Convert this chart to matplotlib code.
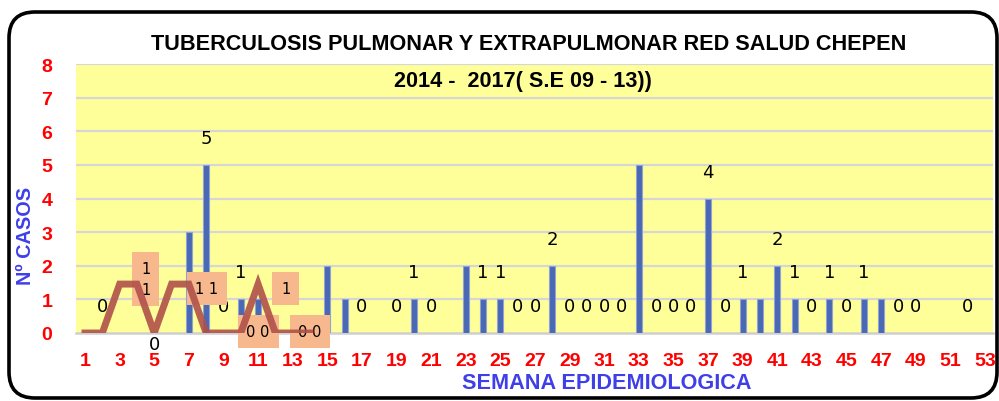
import matplotlib
matplotlib.use("Agg")
import matplotlib.pyplot as plt
from matplotlib.patches import FancyBboxPatch
from matplotlib.transforms import IdentityTransform

# ---------------- data ----------------
bar_weeks = [7, 8, 10, 11, 15, 16, 20, 23, 24, 25, 28, 33, 37, 39, 40, 41, 42, 44, 46, 47]
bar_values = [3, 5, 1, 1, 2, 1, 1, 2, 1, 1, 2, 5, 4, 1, 1, 2, 1, 1, 1, 1]

label_weeks = [2, 8, 9, 10, 17, 19, 20, 21, 24, 25, 26, 27, 28, 29, 30, 31, 32,
               34, 35, 36, 37, 38, 39, 41, 42, 43, 44, 45, 46, 48, 49, 52]
label_values = [0, 5, 0, 1, 0, 0, 1, 0, 1, 1, 0, 0, 2, 0, 0, 0, 0,
                0, 0, 0, 4, 0, 1, 2, 1, 0, 1, 0, 1, 0, 0, 0]

line_weeks = [1, 2, 3, 4, 5, 6, 7, 8, 9, 10, 11, 12, 13, 14]
line_values = [0, 0, 1, 1, 0, 1, 1, 0, 0, 0, 1, 0, 0, 0]

box_texts = ["1\n1", "1 1", "0 0", "1", "0 0"]

x_ticks = list(range(1, 54, 2))
y_ticks = list(range(0, 9))

title1 = "TUBERCULOSIS PULMONAR Y EXTRAPULMONAR RED SALUD CHEPEN"
title2 = "2014 -  2017( S.E 09 - 13))"
xlabel = "SEMANA EPIDEMIOLOGICA"
ylabel = "Nº CASOS"

# ---------------- fonts ----------------
FONT = ["Liberation Sans", "DejaVu Sans"]
plt.rcParams["font.family"] = FONT

# ---------------- figure ----------------
W, H = 999, 402
fig = plt.figure(figsize=(W / 100, H / 100), dpi=100)
fig.patch.set_facecolor("white")

ax = fig.add_axes([76 / W, (H - 334) / H, (993 - 76) / W, (334 - 65) / H])
ax.set_facecolor("#FFFF99")
ax.set_xlim(0.48, 53.46)
ax.set_ylim(0, 8)

for y in y_ticks[1:]:
    ax.axhline(y, color="#D6D6D6", lw=1.6, zorder=1)
for s in ["top", "right", "left"]:
    ax.spines[s].set_visible(False)
ax.spines["bottom"].set_color("#CFCFCF")
ax.spines["bottom"].set_linewidth(1.8)

ax.bar(bar_weeks, bar_values, width=0.34, color="#4A68B4",
       edgecolor="#8FA3D6", linewidth=0.8, zorder=3)

# secondary scale for the line series
ax2 = ax.twinx()
ax2.set_ylim(0, 5.5)
ax2.set_xlim(ax.get_xlim())
ax2.axis("off")
ax2.plot(line_weeks, line_values, color="#B0504A", lw=5, alpha=0.9,
         solid_joinstyle="miter", zorder=4)

# data labels for bars
for wk, v in zip(label_weeks, label_values):
    ax.text(wk, v + 0.8, str(v), ha="center", va="center", fontsize=13,
            color="black", family=["DejaVu Sans"], zorder=6)

# line labels in boxes
box_pos = [(4.5, 1.6), (8.05, 1.33), (11.0, 0.05), (12.6, 1.33), (14.0, 0.05)]
for t, (bx, by) in zip(box_texts, box_pos):
    ax.text(bx, by, t, ha="center", va="center", fontsize=10.5, color="black",
            family=["DejaVu Sans"], linespacing=1.5, zorder=8,
            bbox=dict(boxstyle="square,pad=0.6", facecolor="#F6B88C",
                      edgecolor="none"))
ax.text(5, -0.34, "0", ha="center", va="center", fontsize=13, color="black",
        family=["DejaVu Sans"], clip_on=False, zorder=8)

ax.set_xticks(x_ticks)
ax.set_xticklabels([str(t) for t in x_ticks], color="#FF0000",
                   fontweight="bold", fontsize=14)
ax.set_yticks(y_ticks)
ax.set_yticklabels([str(t) for t in y_ticks], color="#FF0000",
                   fontweight="bold", fontsize=14)
ax.tick_params(axis="both", length=0)
ax.tick_params(axis="x", pad=14)
ax.tick_params(axis="y", pad=17)

fig.text(529 / W, 1 - 45 / H, title1, ha="center", va="center",
         fontsize=15.6, fontweight="bold", color="black")
fig.text(523 / W, 1 - 81 / H, title2, ha="center", va="center",
         fontsize=15.6, fontweight="bold", color="black")
fig.text(607 / W, 1 - 384 / H, xlabel, ha="center", va="center",
         fontsize=15.6, fontweight="bold", color="#3F3FEA")
fig.text(26 / W, 1 - 236 / H, ylabel, ha="center", va="center",
         rotation=90, fontsize=14.3, fontweight="bold", color="#3F3FEA")

# rounded frame
frame = FancyBboxPatch((9, 3), 988, 386, boxstyle="round,pad=0,rounding_size=26",
                       transform=IdentityTransform(), facecolor="none",
                       edgecolor="black", linewidth=2.6, zorder=10)
fig.patches.append(frame)

fig.savefig("out.png", dpi=100)
